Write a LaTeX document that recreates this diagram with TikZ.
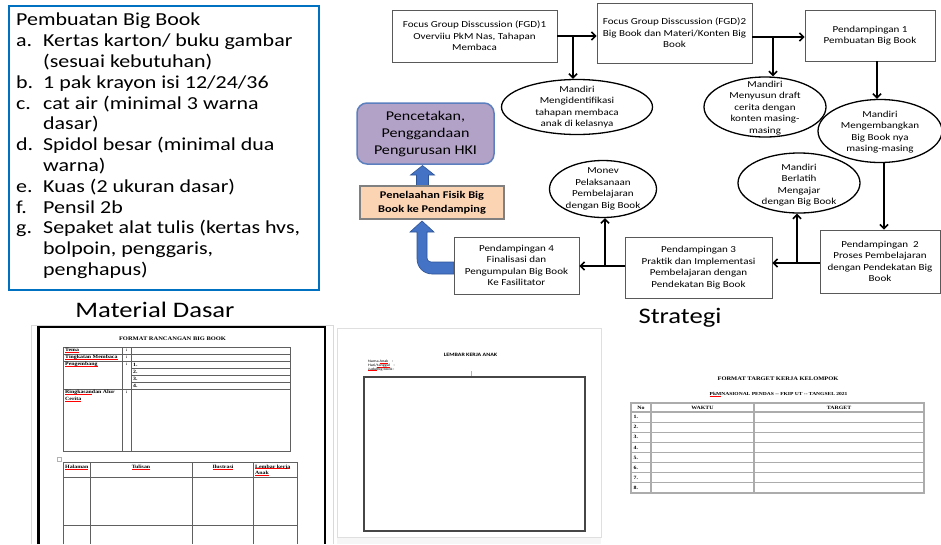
\documentclass[tikz,border=0pt]{standalone}
\usepackage{fontspec}
\setmainfont{Carlito}[FakeStretch=1.2]
\newfontfamily\formserif{Liberation Serif}[FakeStretch=1.2]
\usetikzlibrary{arrows.meta,shapes.geometric,calc}
\definecolor{boxblue}{HTML}{0070C0}
\definecolor{arrblue}{HTML}{4472C4}
\definecolor{arrblueline}{HTML}{2F5597}
\definecolor{hkipurple}{HTML}{B3A2C7}
\definecolor{hkiline}{HTML}{5B7FBF}
\definecolor{peach}{HTML}{FBD4B4}
\definecolor{flowgray}{HTML}{595959}
\newcommand{\lbl}[1]{\makebox[27pt][l]{#1}}
\newcommand{\fcfont}{\fontsize{9.2}{11.5}\selectfont}
\newcommand{\mywavy}[1]{\leavevmode\setbox0\hbox{#1}\rlap{\textcolor{red}{\rule[-0.6pt]{\wd0}{0.35pt}}}\box0}
\tikzset{
  flowbox/.style={draw=flowgray, line width=0.8pt, fill=white, align=center, inner sep=0pt, font=\fcfont},
  mandiri/.style={draw=black, line width=1.3pt, ellipse, inner sep=0pt, fill=white},
  elltext/.style={align=center, inner sep=0pt, font=\fcfont},
  flowarrow/.style={line width=1.6pt, -{Straight Barb[length=4pt,width=8pt]}},
  tbl/.style={draw=gray!75!black, line width=0.6pt},
  tblthree/.style={draw=gray!65, line width=1.1pt},
  formtxt/.style={inner sep=0pt, font=\formserif\bfseries\fontsize{4.9}{5.5}\selectfont},
  formtitle/.style={inner sep=0pt, font=\formserif\bfseries\fontsize{5.4}{6}\selectfont},
  tinytxt/.style={inner sep=0pt, font=\fontsize{3.6}{4}\selectfont, anchor=west},
  heading/.style={inner sep=0pt, font=\fontsize{22.2}{26}\selectfont}
}
\begin{document}
\begin{tikzpicture}[x=1pt,y=-1pt]
\useasboundingbox (0,0) rectangle (941,544);
\fill[white] (0,0) rectangle (941,544);

% ---------- Material list box ----------
\node[draw=boxblue, line width=2pt, minimum width=310pt, minimum height=284pt, anchor=north west, inner sep=0pt] (matbox) at (8,5) {};
\node[anchor=north west, inner sep=0pt, align=left, font=\fontsize{18.3}{20.8}\selectfont] (matlist) at (16,13)
 {Pembuatan Big Book\\
  \lbl{a.}Kertas karton/ buku gambar\\
  \lbl{}(sesuai kebutuhan)\\
  \lbl{b.}1 pak krayon isi 12/24/36\\
  \lbl{c.}cat air (minimal 3 warna\\
  \lbl{}dasar)\\
  \lbl{d.}Spidol besar (minimal dua\\
  \lbl{}warna)\\
  \lbl{e.}Kuas (2 ukuran dasar)\\
  \lbl{f.}Pensil 2b\\
  \lbl{g.}Sepaket alat tulis (kertas hvs,\\
  \lbl{}bolpoin, penggaris,\\
  \lbl{}penghapus)};

\node[heading] (matd) at (155,310) {Material Dasar};
\node[heading] (strat) at (680,318) {Strategi};

% ---------- Blue block arrows ----------
\filldraw[fill=arrblue, draw=arrblueline, line width=0.6pt]
  (454,274) -- (432,274) .. controls (423.7,274) and (417,267.3) .. (417,259)
  -- (417,232) -- (410,232) -- (422,221) -- (434,232) -- (427,232) -- (427,258)
  .. controls (427,260.2) and (428.8,262) .. (431,262) -- (454,262) -- cycle;
\filldraw[fill=arrblue, draw=arrblueline, line width=0.6pt]
  (416.5,186) -- (416.5,175) -- (410.5,175) -- (422.5,165.5) -- (434.5,175) -- (428.5,175) -- (428.5,186) -- cycle;

% ---------- Left column boxes ----------
\node[rounded corners=10pt, draw=hkiline, line width=1.5pt, fill=hkipurple, minimum width=137pt, minimum height=61pt,
      align=center, inner sep=0pt, font=\fontsize{13.4}{17}\selectfont] (hki) at (425.5,133.5)
      {Pencetakan,\\Penggandaan\\Pengurusan HKI};
\node[draw=gray, line width=1.2pt, fill=peach, minimum width=144pt, minimum height=33pt, inner sep=0pt,
      align=center, font=\bfseries\fontsize{10.3}{14}\selectfont] (telaah) at (432,202.5)
      {Penelaahan Fisik Big\\Book ke Pendamping};

% ---------- Flow boxes ----------
\node[flowbox, minimum width=165pt, minimum height=52pt] (fgd1) at (474.5,36)
  {Focus Group Disscussion (FGD)1\\Overviiu PkM Nas, Tahapan\\Membaca};
\node[flowbox, minimum width=155pt, minimum height=60pt] (fgd2) at (674.5,33)
  {Focus Group Disscussion (FGD)2\\Big Book dan Materi/Konten Big\\Book};
\node[flowbox, minimum width=130pt, minimum height=51pt] (pend1) at (870,35.5)
  {Pendampingan 1\\Pembuatan Big Book};
\node[flowbox, minimum width=120pt, minimum height=63pt] (pend2) at (880,261.5)
  {Pendampingan\ \ 2\\Proses Pembelajaran\\dengan Pendekatan Big\\Book};
\node[flowbox, minimum width=147pt, minimum height=61pt] (pend3) at (698.5,267.5)
  {Pendampingan 3\\Praktik dan Implementasi\\Pembelajaran dengan\\Pendekatan Big Book};
\node[flowbox, minimum width=125pt, minimum height=57pt] (pend4) at (516.5,265.5)
  {Pendampingan 4\\Finalisasi dan\\Pengumpulan Big Book\\Ke Fasilitator};

% ---------- Ellipses ----------
\node[mandiri, minimum width=151pt, minimum height=55pt] (e1) at (577,107) {};
\node[elltext] (e1t) at (e1.center) {Mandiri\\Mengidentifikasi\\tahapan membaca\\anak di kelasnya};
\node[mandiri, minimum width=122pt, minimum height=60pt] (e2) at (765,107) {};
\node[elltext] (e2t) at (765,108) {Mandiri\\Menyusun draft\\cerita dengan\\konten masing-\\masing};
\node[mandiri, minimum width=124pt, minimum height=63pt] (e3) at (880,131) {};
\node[elltext] (e3t) at (880,132) {Mandiri\\Mengembangkan\\Big Book nya\\masing-masing};
\node[mandiri, minimum width=122pt, minimum height=60pt] (e4) at (799,183) {};
\node[elltext] (e4t) at (799,185) {Mandiri\\Berlatih\\Mengajar\\dengan Big Book};
\node[mandiri, minimum width=107pt, minimum height=57pt] (e5) at (603,189) {};
\node[elltext] (e5t) at (603,189) {Monev\\Pelaksanaan\\Pembelajaran\\dengan Big Book};

% ---------- Flow arrows ----------
\coordinate (j1) at (573,36);
\draw[flowarrow] (fgd1.east |- j1) -- (fgd2.west |- j1);
\draw[flowarrow] (j1) -- (j1 |- e1.north);
\coordinate (j2) at (773,37);
\draw[flowarrow] (fgd2.east |- j2) -- (pend1.west |- j2);
\draw[flowarrow] (j2) -- (j2 |- e2.north);
\draw[flowarrow] ([xshift=7pt]pend1.south) -- ([xshift=7pt]pend1.south |- e3.north);
\draw[flowarrow] ([xshift=4pt]e3.south) -- ([xshift=4pt]e3.south |- pend2.north);
\coordinate (j5) at (797,263);
\draw[flowarrow] (pend2.west |- j5) -- (pend3.east |- j5);
\draw[flowarrow] (j5) -- (j5 |- e4.south);
\coordinate (j6) at (605,266);
\draw[flowarrow] (pend3.west |- j6) -- (pend4.east |- j6);
\draw[flowarrow] (j6) -- (j6 |- e5.south);

% ---------- Form 1: FORMAT RANCANGAN BIG BOOK ----------
\draw[gray!30, line width=0.6pt] (31,544) -- (31,325) -- (333,325) -- (333,544);
\draw[black, line width=2.6pt] (38.5,544) -- (38.5,327) -- (325,327) -- (325,544);
\node[formtitle] (f1t) at (172.5,339) {FORMAT RANCANGAN BIG BOOK};
\draw[tbl] (63,347) rectangle (290,451);
\draw[tbl] (63,354) -- (290,354) (63,361) -- (290,361) (63,389) -- (290,389);
\draw[tbl] (131,368) -- (290,368) (131,375) -- (290,375) (131,382) -- (290,382);
\draw[tbl] (122,347) -- (122,451) (131,347) -- (131,451);
\node[formtxt, anchor=west] (f1a) at (65,350.5) {\mywavy{Tema}};
\node[formtxt, anchor=west] (f1b) at (65,357.5) {\mywavy{Tingkatan Membaca}};
\node[formtxt, anchor=west] (f1c) at (65,364.5) {\mywavy{Pengembang}};
\node[formtxt, anchor=west] (f1d) at (65,392.5) {\mywavy{Ringkasan} dan Alur};
\node[formtxt, anchor=west] (f1e) at (65,399) {\mywavy{Cerita}};
\node[formtxt] (c1) at (126.5,350.5) {:};
\node[formtxt] (c2) at (126.5,357.5) {:};
\node[formtxt] (c3) at (126.5,364.5) {:};
\node[formtxt] (c4) at (126.5,392.5) {:};
\node[formtxt, anchor=west] (p1) at (133,364.8) {1.};
\node[formtxt, anchor=west] (p2) at (133,371.6) {2.};
\node[formtxt, anchor=west] (p3) at (133,378.5) {3.};
\node[formtxt, anchor=west] (p4) at (133,385.5) {4.};
\draw[gray!60, line width=0.4pt] (57,457) rectangle (61,461);
\draw[tbl] (63,544) -- (63,462) -- (297,462) -- (297,544);
\draw[tbl] (63,477) -- (297,477) (63,525) -- (297,525);
\draw[tbl] (90,462) -- (90,544) (192,462) -- (192,544) (253,462) -- (253,544);
\node[formtxt, anchor=west] (h1) at (65,467) {\mywavy{Halaman}};
\node[formtxt] (h2) at (141,467) {\mywavy{Tulisan}};
\node[formtxt] (h3) at (223,467) {\mywavy{Ilustrasi}};
\node[formtxt, anchor=west] (h4) at (255,467) {\mywavy{Lembar kerja}};
\node[formtxt, anchor=west] (h5) at (255,473.5) {\mywavy{Anak}};

% ---------- Form 2: LEMBAR KERJA ANAK ----------
\fill[gray!7] (337,537) rectangle (601,544);
\draw[gray!25, line width=0.6pt] (337,328) rectangle (601,537);
\node[inner sep=0pt, font=\bfseries\fontsize{5}{6}\selectfont] (f2t) at (470.5,355) {LEMBAR KERJA ANAK};
\node[tinytxt] (f2a) at (368,361.6) {Nama \mywavy{Anak}\quad :};
\node[tinytxt] (f2b) at (368,365.4) {Hari/\mywavy{tanggal}\quad :};
\node[tinytxt] (f2c) at (368,369.3) {\mywavy{Judul} Big book :};
\draw[gray!60, line width=0.6pt] (471,371) -- (471,377);
\draw[gray!55!black, line width=1.6pt] (364,377) rectangle (585,531);

% ---------- Form 3: FORMAT TARGET KERJA KELOMPOK ----------
\node[formtitle] (f3t) at (778,379) {FORMAT TARGET KERJA KELOMPOK};
\node[formtitle, font=\formserif\bfseries\fontsize{4.6}{5}\selectfont] (f3s) at (778.5,394) {\mywavy{PkM} NASIONAL PENDAS -- FKIP UT -- TANGSEL 2021};
\draw[tblthree] (631,403) rectangle (924,493);
\foreach \k in {0,...,7} { \draw[tblthree] (631,{412+10.125*\k}) -- (924,{412+10.125*\k}); }
\draw[tblthree] (651,403) -- (651,493) (754,403) -- (754,493);
\node[formtxt] (n0) at (641,407.5) {No};
\node[formtxt] (w0) at (702.5,407.5) {WAKTU};
\node[formtxt] (t0) at (839,407.5) {TARGET};
\foreach \k in {1,...,8} { \node[formtxt, anchor=west] (n\k) at (633.5,{412+10.125*\k-5.06}) {\k.}; }
\end{tikzpicture}
\end{document}
